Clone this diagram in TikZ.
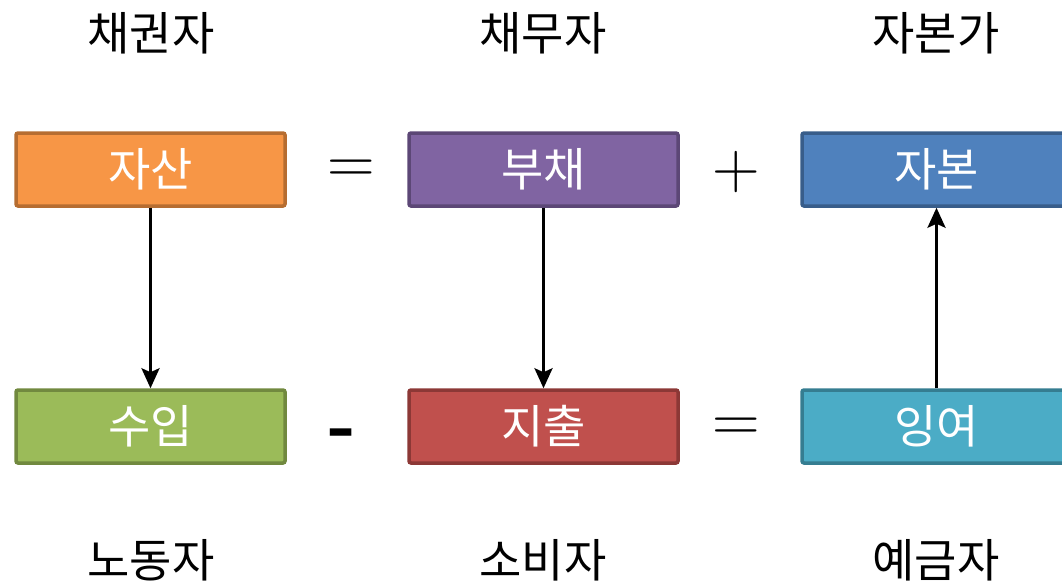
\documentclass[tikz,border=0pt]{standalone}
\usepackage{fontspec}
\usetikzlibrary{arrows.meta}
\newfontfamily\kr{Noto Sans CJK KR}
\newfontfamily\dv{DejaVu Sans}
\definecolor{orF}{HTML}{F79646}\definecolor{orB}{HTML}{B66D31}
\definecolor{puF}{HTML}{8064A2}\definecolor{puB}{HTML}{5C4776}
\definecolor{blF}{HTML}{4F81BD}\definecolor{blB}{HTML}{385D8A}
\definecolor{grF}{HTML}{9BBB59}\definecolor{grB}{HTML}{71893F}
\definecolor{reF}{HTML}{C0504D}\definecolor{reB}{HTML}{8C3836}
\definecolor{teF}{HTML}{4BACC6}\definecolor{teB}{HTML}{357D91}
\begin{document}
\begin{tikzpicture}[x=1pt,y=-1pt,
  acct/.style={draw=#1B,fill=#1F,line width=3.5pt,rounded corners=2pt,
    minimum width=269pt,minimum height=73pt,inner sep=0pt,
    text=white,font=\kr\fontsize{46}{50}\selectfont},
  role/.style={font=\kr\fontsize{46}{50}\selectfont,text=black,inner sep=0pt},
  op/.style={font=\fontsize{66}{70}\selectfont,inner sep=0pt},
  flow/.style={line width=3pt,-{Stealth[length=20pt,width=18pt,inset=4pt]}}]
\useasboundingbox (0,0) rectangle (1062,586);
\node[acct=or] (asset) at (150.5,169.5) {자산};
\node[acct=pu] (debt) at (543.5,169.5) {부채};
\node[acct=bl] (capital) at (936.5,169.5) {자본};
\node[acct=gr] (income) at (150.5,426.5) {수입};
\node[acct=re] (expense) at (543.5,426.5) {지출};
\node[acct=te] (surplus) at (936.5,426.5) {잉여};
\node[role] (r1) at (151,33) {채권자};
\node[role] (r2) at (543,33) {채무자};
\node[role] (r3) at (936,33) {자본가};
\node[role] (r4) at (151,560) {노동자};
\node[role] (r5) at (543,560) {소비자};
\node[role] (r6) at (936,560) {예금자};
\node[op] (eq1) at (351,171.5) {=};
\node[op] (plus) at (736,172) {+};
\node[font=\dv\bfseries\fontsize{52}{56}\selectfont,inner sep=0pt] (minus) at (341,438) {\scalebox{1.35}[1]{-}};
\node[op] (eq2) at (736,429.5) {=};
\draw[flow] (asset) -- (income);
\draw[flow] (debt) -- (expense);
\draw[flow] (surplus) -- (capital);
\end{tikzpicture}
\end{document}
